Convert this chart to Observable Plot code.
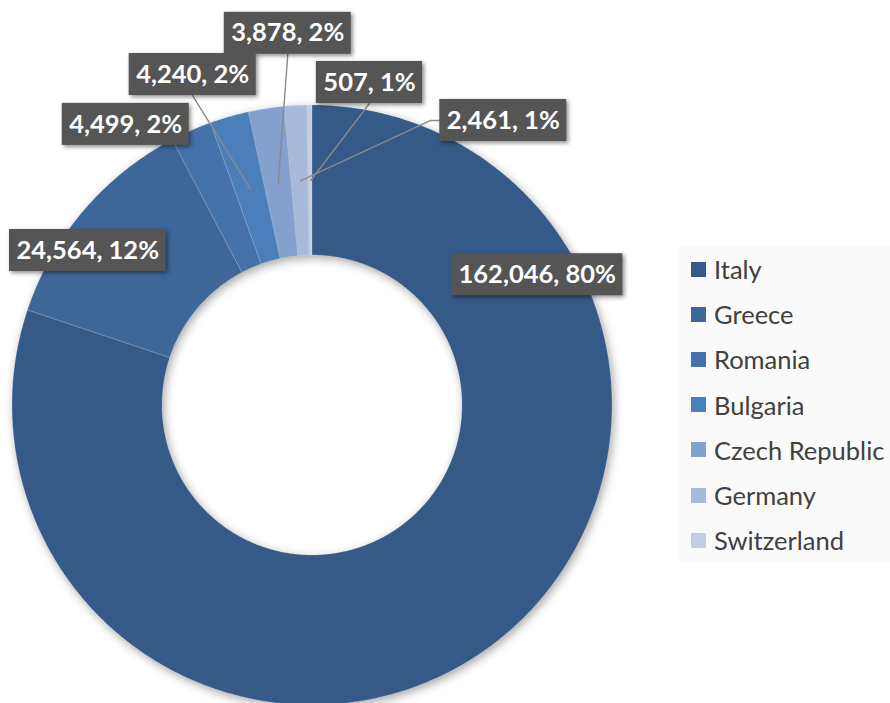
<!DOCTYPE html>
<html>
<head>
<meta charset="utf-8">
<script src="https://cdn.jsdelivr.net/npm/d3@7"></script>
<script src="https://cdn.jsdelivr.net/npm/@observablehq/plot@0.6"></script>
<style>
  html, body { margin: 0; padding: 0; background: #fff; }
  #wrap { position: relative; width: 890px; height: 703px; overflow: hidden; }
  #legend { position: absolute; left: 679px; top: 247px; width: 215px; height: 316px; background: #fafafa;
            font-family: Lato, "Open Sans", sans-serif; font-size: 25.5px; color: #404040; }
  .row { position: absolute; left: 12px; height: 26px; display: flex; align-items: center; white-space: nowrap; }
  .sw { width: 15px; height: 15px; margin-right: 8px; flex: none; }
</style>
</head>
<body>
<div id="wrap"></div>
<script>
// ---- data ----
const countries = ["Italy", "Greece", "Romania", "Bulgaria", "Czech Republic", "Germany", "Switzerland"];
const values = [162046, 24564, 4499, 4240, 3878, 2461, 507];
const percents = [80, 12, 2, 2, 2, 1, 1];

// ---- styling / layout ----
const palette = ["#355a88", "#3e6699", "#4572ab", "#4b7fbc", "#84a0cc", "#a8bad9", "#c3cee3"];
// label placement: [angle in degrees clockwise from top, distance from centre]
const labelPlacement = [[59.8, 260], [304.6, 273], [326.4, 337.5], [340.1, 352], [356.2, 373], [33.8, 343], [10, 328]];

const W = 890, H = 703, CX = 312, CY = 405;
const R_OUT = 300, R_IN = 150, R_LEADER = 225;
const FONT = "Lato, 'Open Sans', sans-serif";
const FS = 25.5, BOX_H = 42, PADX = 7;

const pie = d3.pie().sort(null).value(d => d.value).startAngle(0).endAngle(2 * Math.PI);
const data = countries.map((name, i) => ({name, value: values[i], pct: percents[i], i}));
const arcs = pie(data);

// ring polygons
const ringPts = [];
for (const a of arcs) {
  const n = Math.max(2, Math.ceil((a.endAngle - a.startAngle) / (Math.PI / 360)));
  for (let k = 0; k <= n; k++) {
    const t = a.startAngle + (a.endAngle - a.startAngle) * k / n;
    ringPts.push({
      name: a.data.name,
      xo: R_OUT * Math.sin(t), yo: R_OUT * Math.cos(t),
      xi: R_IN * Math.sin(t), yi: R_IN * Math.cos(t)
    });
  }
}

// labels
const ctx = document.createElement("canvas").getContext("2d");
ctx.font = `bold ${FS}px ${FONT}`;
const fmt = d3.format(",");
const labels = arcs.map((a, i) => {
  const text = `${fmt(a.data.value)}, ${a.data.pct}%`;
  const [deg, dist] = labelPlacement[i];
  const th = deg * Math.PI / 180;
  const cx = dist * Math.sin(th), cy = dist * Math.cos(th);
  const w = ctx.measureText(text).width + 2 * PADX;
  const mid = (a.startAngle + a.endAngle) / 2;
  return {
    name: a.data.name, text, cx, cy, w, dist,
    x1: cx - w / 2, x2: cx + w / 2, y1: cy - BOX_H / 2, y2: cy + BOX_H / 2,
    tx: R_LEADER * Math.sin(mid), ty: R_LEADER * Math.cos(mid),
    ox: R_OUT * Math.sin(mid), oy: R_OUT * Math.cos(mid)
  };
});

// leader lines for labels placed outside the ring and detached from their slice
const leaderPts = [];
for (const l of labels) {
  if (l.dist <= R_OUT) continue;
  const dx = Math.max(l.x1 - l.ox, 0, l.ox - l.x2);
  const dy = Math.max(l.y1 - l.oy, 0, l.oy - l.y2);
  if (Math.hypot(dx, dy) <= 4) continue;
  const ddx = l.tx - l.cx, ddy = l.ty - l.cy;
  if (Math.abs(ddx) > Math.abs(ddy) * 1.2) {
    const side = ddx < 0 ? -1 : 1;
    const sx = l.cx + side * l.w / 2;
    leaderPts.push({name: l.name, x: sx, y: l.cy});
    leaderPts.push({name: l.name, x: sx + side * 9, y: l.cy});
  } else {
    const sy = ddy < 0 ? l.y1 : l.y2;
    leaderPts.push({name: l.name, x: l.cx, y: sy});
  }
  leaderPts.push({name: l.name, x: l.tx, y: l.ty});
}

const chart = Plot.plot({
  width: W, height: H,
  margin: 0,
  x: {domain: [-CX, W - CX], range: [0, W], axis: null},
  y: {domain: [CY - H, CY], range: [H, 0], axis: null},
  color: {domain: countries, range: palette},
  marks: [
    Plot.area(ringPts, {x1: "xo", y1: "yo", x2: "xi", y2: "yi", z: "name", fill: "name",
      stroke: "white", strokeOpacity: 0.25, strokeWidth: 0.7}),
    Plot.line(leaderPts, {x: "x", y: "y", z: "name", stroke: "#8a8a8a", strokeWidth: 1.4}),
    Plot.rect(labels, {x1: "x1", x2: "x2", y1: "y1", y2: "y2", fill: "#555555"}),
    Plot.text(labels, {x: "cx", y: "cy", text: "text", fill: "white", fontWeight: "bold",
      fontSize: FS, fontFamily: FONT})
  ]
});

const svg = d3.select(chart);
svg.selectAll('g[aria-label="area"]').style("filter", "drop-shadow(2px 3px 5px rgba(0,0,0,0.35))");
svg.selectAll('g[aria-label="rect"]').style("filter", "drop-shadow(2px 2px 2px rgba(0,0,0,0.45))");

const wrap = document.getElementById("wrap");
wrap.append(chart);

// legend
const legend = document.createElement("div");
legend.id = "legend";
countries.forEach((c, i) => {
  const row = document.createElement("div");
  row.className = "row";
  row.style.top = (22 + i * 45.2 - 13) + "px";
  const sw = document.createElement("span");
  sw.className = "sw";
  sw.style.background = palette[i];
  const t = document.createElement("span");
  t.textContent = c;
  row.append(sw, t);
  legend.append(row);
});
wrap.append(legend);
</script>
</body>
</html>
